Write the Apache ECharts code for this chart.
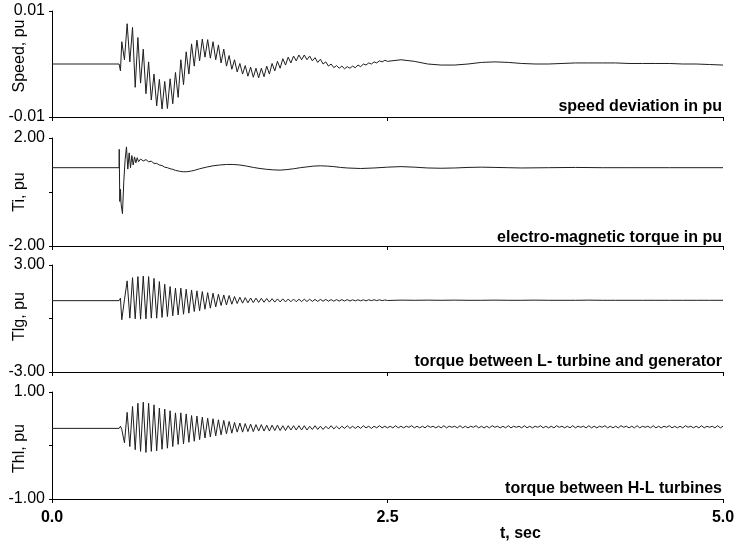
<!DOCTYPE html>
<html><head><meta charset="utf-8">
<script src="https://cdn.jsdelivr.net/npm/echarts@6/dist/echarts.min.js"></script>
<style>html,body{margin:0;padding:0;background:#fff}#c{width:739px;height:544px}</style>
</head><body><div id="c"></div>
<script>
// ---- time bases (s) ----
const timeA = [0, 0.50, 0.51,
 0.52,0.54,0.56,0.58,0.60,0.62,0.64,0.66,0.68,0.70,
 0.72,0.74,0.76,0.78,0.80,0.82,0.84,0.86,0.88,0.90,
 0.92,0.94,0.96,0.98,1.00,1.02,1.04,1.06,1.08,1.10,
 1.12,1.14,1.16,1.18,1.20,1.22,1.24,1.26,1.28,1.30,
 1.32,1.34,1.36,1.38,1.40,1.42,1.44,1.46,1.48,1.50,
 1.52,1.54,1.56,1.58,1.60,1.62,1.64,1.66,1.68,1.70,
 1.72,1.74,1.76,1.78,1.80,1.82,1.84,1.86,1.88,1.90,
 1.92,1.94,1.96,1.98,2.00,2.02,2.04,2.06,2.08,2.10,
 2.12,2.14,2.16,2.18,2.20,2.22,2.24,2.26,2.28,2.30,
 2.32,2.34,2.36,2.38,2.40,2.42,2.44,2.46,2.48,2.50];
const timeB = [2.6,2.7,2.8,2.9,3.0,3.1,3.2,3.3,3.4,3.5,3.6,3.7,3.8,3.9,4.0,4.1,4.2,4.3,4.4,4.5,4.6,4.7,4.8,4.9,5.0];
const timeC = [
 2.52,2.54,2.56,2.58,2.60,2.62,2.64,2.66,2.68,2.70,
 2.72,2.74,2.76,2.78,2.80,2.82,2.84,2.86,2.88,2.90,
 2.92,2.94,2.96,2.98,3.00,3.02,3.04,3.06,3.08,3.10,
 3.12,3.14,3.16,3.18,3.20,3.22,3.24,3.26,3.28,3.30,
 3.32,3.34,3.36,3.38,3.40,3.42,3.44,3.46,3.48,3.50,
 3.52,3.54,3.56,3.58,3.60,3.62,3.64,3.66,3.68,3.70,
 3.72,3.74,3.76,3.78,3.80,3.82,3.84,3.86,3.88,3.90,
 3.92,3.94,3.96,3.98,4.00,4.02,4.04,4.06,4.08,4.10,
 4.12,4.14,4.16,4.18,4.20,4.22,4.24,4.26,4.28,4.30,
 4.32,4.34,4.36,4.38,4.40,4.42,4.44,4.46,4.48,4.50,
 4.52,4.54,4.56,4.58,4.60,4.62,4.64,4.66,4.68,4.70,
 4.72,4.74,4.76,4.78,4.80,4.82,4.84,4.86,4.88,4.90,
 4.92,4.94,4.96,4.98,5.00];
const timeTi = [0,0.5,0.501,0.505,0.51,0.515,0.525,0.535,0.545,0.555,0.565,0.575,0.585,0.595,0.605,0.615,0.625,0.635,0.645,
 0.66,0.68,0.70,0.72,0.74,0.76,0.78,0.80,0.82,0.84,0.86,0.88,0.90,0.92,0.94,0.96,0.98,1.00,1.02,1.04,1.06,1.08,1.10,
 1.15,1.20,1.25,1.30,1.35,1.40,1.45,1.50,1.55,1.60,1.65,1.70,1.75,1.80,1.85,1.90,1.95,2.00,2.05,2.10,2.15,2.20,
 2.30,2.40,2.50,2.60,2.70,2.80,2.90,3.00,3.10,3.20,3.30,3.40,3.50,3.70,3.90,4.10,4.30,4.60,5.00];

// ---- speed deviation, pu ----
const speedA = [0, 0, -0.0013,
 0.0042,0.0008,0.0076,0.0004,0.0069,-0.0044,0.0050,-0.0036,0.0028,-0.0056,
 0.0004,-0.0068,-0.0019,-0.0079,-0.0029,-0.0085,-0.0033,-0.0084,-0.0028,-0.0075,
 -0.0016,-0.0063,0.0008,-0.0039,0.0023,-0.0019,0.0038,-0.0004,0.0045,0.0006,
 0.0047,0.0013,0.0046,0.0011,0.0042,0.0008,0.0036,0.0002,0.0028,-0.0004,
 0.0016,-0.0010,0.0008,-0.0015,0.0001,-0.0019,-0.0003,-0.0023,-0.0006,-0.0025,
 -0.0008,-0.0026,-0.0008,-0.0024,-0.0004,-0.0019,0.0001,-0.0013,0.0005,-0.0008,
 0.0010,-0.0002,0.0013,0.0002,0.0015,0.0006,0.0017,0.0008,0.0017,0.0008,
 0.0015,0.0006,0.0012,0.0003,0.0009,0.0000,0.0004,-0.0004,0.0000,-0.0007,
 -0.0003,-0.0008,-0.0004,-0.0009,-0.0005,-0.0008,-0.0004,-0.0007,-0.0002,-0.0005,
 0.0000,-0.0002,0.0002,0.0000,0.0004,0.0002,0.0006,0.0004,0.0007,0.0005];
const speedB = [0.0008,0.0005,0.0000,-0.0002,-0.0002,0.0000,0.0003,0.0004,0.0003,0.0001,0.0000,0.0000,0.0001,
 0.0002,0.0002,0.0002,0.0002,0.0001,0.0001,0.0001,0.0001,0.0000,0.0000,-0.0001,-0.0002];

// ---- electro-magnetic torque Ti, pu ----
const ti = [0.9,0.9,1.58,-0.35,0.1,-0.45,-0.8,0.4,1.2,1.67,0.85,1.45,0.9,1.35,1.0,1.3,1.08,1.27,1.12,
 1.22,1.15,1.20,1.12,1.14,1.06,1.06,1.00,0.98,0.92,0.90,0.86,0.84,0.80,0.78,0.76,0.75,0.75,0.76,0.78,0.80,0.83,0.86,
 0.92,0.97,1.00,1.02,1.02,1.00,0.96,0.91,0.87,0.84,0.82,0.81,0.83,0.86,0.90,0.93,0.96,0.97,0.96,0.94,0.91,0.89,
 0.87,0.89,0.92,0.94,0.92,0.89,0.88,0.89,0.91,0.92,0.91,0.90,0.89,0.90,0.91,0.90,0.90,0.90,0.90];

// ---- torque between L-turbine and generator Tlg, pu ----
const tlgA = [1.0, 1.0, 1.14,
 -0.07,1.05,2.11,0.02,2.29,-0.02,2.35,-0.04,2.38,-0.02,
 2.35,0.02,2.25,0.02,2.07,0.06,1.92,0.11,1.79,0.15,
 1.70,0.20,1.70,0.24,1.64,0.30,1.60,0.39,1.55,0.43,
 1.51,0.52,1.45,0.58,1.42,0.65,1.36,0.73,1.32,0.76,
 1.29,0.80,1.23,0.84,1.19,0.86,1.17,0.88,1.15,0.89,
 1.14,0.90,1.13,0.91,1.12,0.92,1.11,0.92,1.10,0.93,
 1.10,0.93,1.09,0.94,1.09,0.94,1.08,0.95,1.08,0.95,
 1.08,0.96,1.07,0.96,1.07,0.97,1.07,0.97,1.06,0.97,
 1.06,0.98,1.06,0.98,1.06,0.98,1.05,0.99,1.05,0.99,
 1.05,0.99,1.05,1.00,1.05,1.00,1.05,1.00,1.04,1.01];
const tlgB = [1.03,1.02,1.03,1.02,1.03,1.02,1.02,1.03,1.02,1.02,1.03,1.02,1.02,1.02,1.03,1.02,1.02,1.02,1.02,1.02,1.02,1.02,1.02,1.02,1.02];

// ---- torque between H-L turbines Thl, pu ----
const thlA = [0.32, 0.32, 0.36,
 0.30,0.05,0.62,-0.02,0.73,-0.08,0.79,-0.11,0.81,-0.13,
 0.79,-0.11,0.76,-0.10,0.70,-0.07,0.68,-0.05,0.65,-0.02,
 0.61,0.02,0.61,0.03,0.59,0.06,0.56,0.08,0.55,0.11,
 0.53,0.14,0.51,0.16,0.50,0.18,0.48,0.20,0.47,0.22,
 0.45,0.23,0.43,0.25,0.42,0.25,0.41,0.26,0.40,0.26,
 0.39,0.27,0.39,0.27,0.38,0.27,0.38,0.28,0.38,0.28,
 0.37,0.28,0.37,0.29,0.37,0.29,0.37,0.29,0.37,0.29,
 0.36,0.30,0.37,0.30,0.36,0.30,0.36,0.31,0.37,0.31,
 0.36,0.31,0.36,0.32,0.37,0.32,0.36,0.32,0.36,0.32,
 0.37,0.33,0.36,0.32,0.36,0.33,0.37,0.33,0.36,0.33];
const thlC = [
 0.36,0.33,0.37,0.33,0.36,0.33,0.36,0.34,0.37,0.33,
 0.36,0.33,0.36,0.33,0.37,0.34,0.36,0.33,0.36,0.33,
 0.37,0.33,0.36,0.34,0.36,0.33,0.37,0.33,0.36,0.33,
 0.36,0.34,0.37,0.33,0.36,0.33,0.36,0.33,0.37,0.34,
 0.36,0.33,0.36,0.33,0.37,0.33,0.36,0.34,0.36,0.33,
 0.37,0.33,0.36,0.33,0.36,0.34,0.37,0.33,0.36,0.33,
 0.36,0.33,0.37,0.34,0.36,0.33,0.36,0.33,0.37,0.33,
 0.36,0.34,0.36,0.33,0.37,0.33,0.36,0.33,0.36,0.34,
 0.37,0.33,0.36,0.33,0.36,0.33,0.37,0.34,0.36,0.33,
 0.36,0.33,0.37,0.33,0.36,0.34,0.36,0.33,0.37,0.33,
 0.36,0.33,0.36,0.34,0.37,0.33,0.36,0.33,0.36,0.33,
 0.37,0.34,0.36,0.33,0.36,0.33,0.37,0.33,0.36,0.34,
 0.36,0.33,0.37,0.33,0.36];

// ---- labels ----
const yNames = ['Speed, pu', 'Ti, pu', 'Tlg, pu', 'Thl, pu'];
const yLimits = [0.01, 2, 3, 1];
const panelTitles = ['speed deviation in pu', 'electro-magnetic torque in pu', 'torque between L- turbine and generator', 'torque between H-L turbines'];
const xTicks = [0, 2.5, 5];
const xName = 't, sec';

const zip = (ts, vs) => ts.slice(0, Math.min(ts.length, vs.length)).map((t, i) => [t, vs[i]]);
const seriesData = [
  zip(timeA, speedA).concat(zip(timeB, speedB)),
  zip(timeTi, ti),
  zip(timeA, tlgA).concat(zip(timeB, tlgB)),
  zip(timeA, thlA).concat(zip(timeC, thlC))
];

const FONT = 'Liberation Sans, Arial, Helvetica, sans-serif';
const tops = [11, 138, 265, 392];
const heights = [106, 108, 107, 107];
const titleTops = [99, 230, 354, 481];
const namePads = [[0,0,0,16], 0, [0,0,0,4], [0,6,0,0]];

const grid = tops.map((t, i) => ({left: 52, right: 16, top: t, height: heights[i], containLabel: false, outerBoundsMode: 'none'}));
const xAxis = tops.map((t, i) => ({
  type: 'value', gridIndex: i, min: 0, max: 5, interval: 2.5,
  axisLine: {show: true, onZero: false, lineStyle: {color: '#000', width: 1}},
  axisTick: {show: true, length: 4, customValues: xTicks, lineStyle: {color: '#000'}},
  axisLabel: {show: i === 3, customValues: xTicks, formatter: v => v.toFixed(1), fontSize: 16, fontWeight: 'bold', color: '#000', fontFamily: FONT, margin: 11},
  splitLine: {show: false}
}));
const yAxis = yLimits.map((lim, i) => ({
  type: 'value', gridIndex: i, min: -lim, max: lim, interval: lim,
  name: yNames[i], nameLocation: 'middle', nameGap: 24, nameRotate: 90, nameMoveOverlap: false,
  nameTextStyle: {fontFamily: FONT, fontSize: 16, color: '#000', padding: namePads[i]},
  axisLine: {show: true, lineStyle: {color: '#000', width: 1}},
  axisTick: {show: true, length: 3, customValues: i === 0 ? [-lim, lim] : [-lim, 0, lim], lineStyle: {color: '#000'}},
  axisLabel: {show: true, customValues: [-lim, lim], formatter: v => v.toFixed(2), fontSize: 16, color: '#000', fontFamily: FONT, margin: 7},
  splitLine: {show: false}
}));
const series = seriesData.map((d, i) => ({
  type: 'line', xAxisIndex: i, yAxisIndex: i, data: d, showSymbol: false, symbol: 'none',
  lineStyle: {color: '#1e1e1e', width: 1}, sampling: null, silent: true
}));
const title = panelTitles.map((t, i) => ({
  text: t, right: 17, top: titleTops[i], padding: 0,
  textStyle: {fontSize: 16, fontWeight: 'bold', color: '#000', fontFamily: FONT}
}));

const chart = echarts.init(document.getElementById('c'), null, {renderer: 'canvas'});
chart.setOption({
  animation: false,
  backgroundColor: '#fff',
  title, grid, xAxis, yAxis, series,
  graphic: [{type: 'text', left: 500, top: 526, style: {text: xName, fontSize: 16, fontWeight: 'bold', fill: '#000', fontFamily: FONT}}]
});
</script></body></html>
